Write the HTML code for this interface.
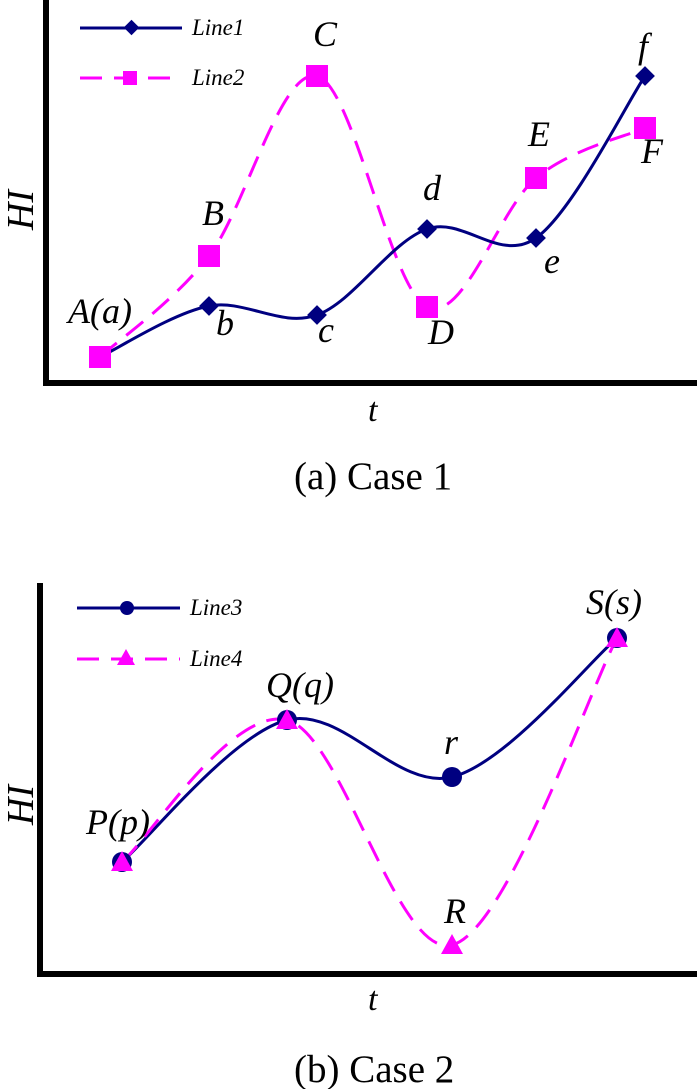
<!DOCTYPE html>
<html><head><meta charset="utf-8"><style>
html,body{margin:0;padding:0;background:#fff}
svg{display:block}
text{font-family:"Liberation Serif",serif;font-style:italic;fill:#000}
.cap{font-style:normal}
</style></head><body>
<svg id="s" width="700" height="1089" viewBox="0 0 700 1089" xmlns="http://www.w3.org/2000/svg">
<rect x="43" y="0" width="6" height="386" fill="#000"/>
<rect x="43" y="380" width="654" height="6" fill="#000"/>
<rect x="37" y="583" width="6" height="394" fill="#000"/>
<rect x="37" y="971" width="660" height="6" fill="#000"/>
<g id="curves"></g>
<line x1="80" y1="28" x2="182" y2="28" stroke="#000080" stroke-width="3"/>
<rect x="126" y="22" width="11" height="11" fill="#000080" transform="rotate(45 131.5 27.5)"/>
<text x="192" y="35" font-size="23">Line1</text>
<line x1="80" y1="78" x2="182" y2="78" stroke="#ff00ff" stroke-width="3" stroke-dasharray="22,12"/>
<rect x="123" y="71" width="14" height="14" fill="#ff00ff"/>
<text x="192" y="85" font-size="23">Line2</text>
<line x1="77" y1="608" x2="180" y2="608" stroke="#000080" stroke-width="3"/>
<circle cx="127" cy="608" r="7" fill="#000080"/>
<text x="190" y="615" font-size="23">Line3</text>
<line x1="77" y1="659" x2="180" y2="659" stroke="#ff00ff" stroke-width="3" stroke-dasharray="22,12"/>
<polygon points="126,649 135,665 117,665" fill="#ff00ff"/>
<text x="190" y="666" font-size="23">Line4</text>
<text x="68" y="323" font-size="36">A(a)</text>
<text x="216" y="335" font-size="36">b</text>
<text x="318" y="342" font-size="36">c</text>
<text x="423" y="200" font-size="36">d</text>
<text x="544" y="273" font-size="36">e</text>
<text x="638" y="58" font-size="36">f</text>
<text x="202" y="225" font-size="36">B</text>
<text x="313" y="46" font-size="36">C</text>
<text x="428" y="344" font-size="36">D</text>
<text x="528" y="146" font-size="36">E</text>
<text x="641" y="163" font-size="36">F</text>
<text x="21" y="222" font-size="38" transform="rotate(-90 21 210)" text-anchor="middle">HI</text>
<text x="368" y="421" font-size="34">t</text>
<text class="cap" x="294" y="489" font-size="39">(a) Case 1</text>
<text x="86" y="834" font-size="36">P(p)</text>
<text x="266" y="697" font-size="36">Q(q)</text>
<text x="444" y="754" font-size="36">r</text>
<text x="586" y="614" font-size="36">S(s)</text>
<text x="444" y="923" font-size="36">R</text>
<text x="21" y="817" font-size="38" transform="rotate(-90 21 805)" text-anchor="middle">HI</text>
<text x="368" y="1010" font-size="34">t</text>
<text class="cap" x="294" y="1082" font-size="39">(b) Case 2</text>
</svg>
<script>
function cr(p){let d="M"+p[0][0]+","+p[0][1];for(let i=0;i<p.length-1;i++){const p0=p[i-1]||p[i],p1=p[i],p2=p[i+1],p3=p[i+2]||p[i+1];const c1=[p1[0]+(p2[0]-p0[0])/6,p1[1]+(p2[1]-p0[1])/6],c2=[p2[0]-(p3[0]-p1[0])/6,p2[1]-(p3[1]-p1[1])/6];d+=" C"+c1+" "+c2+" "+p2;}return d;}
const g=document.getElementById("curves");let h="";
const L1=[[100,357],[209,306],[317,315],[427,229],[536,238],[645,76]];
const L2=[[100,357],[209,256],[317,76],[427,307],[536,178],[645,128]];
const L3=[[122,862],[287,720],[452,777],[617,638]];
const L4=[[122,862],[287,720],[452,945],[617,638]];
h+=`<path d="${cr(L2)}" fill="none" stroke="#ff00ff" stroke-width="3" stroke-dasharray="22,12"/>`;
h+=`<path d="${cr(L1)}" fill="none" stroke="#000080" stroke-width="3"/>`;
L1.forEach(p=>h+=`<rect x="${p[0]-7}" y="${p[1]-7}" width="14" height="14" fill="#000080" transform="rotate(45 ${p[0]} ${p[1]})"/>`);
L2.forEach(p=>h+=`<rect x="${p[0]-11}" y="${p[1]-11}" width="22" height="22" fill="#ff00ff"/>`);
h+=`<path d="${cr(L3)}" fill="none" stroke="#000080" stroke-width="3"/>`;
h+=`<path d="${cr(L4)}" fill="none" stroke="#ff00ff" stroke-width="3" stroke-dasharray="22,12"/>`;
L3.forEach(p=>h+=`<circle cx="${p[0]}" cy="${p[1]}" r="10" fill="#000080"/>`);
L4.forEach(p=>h+=`<polygon points="${p[0]},${p[1]-11} ${p[0]+11},${p[1]+9} ${p[0]-11},${p[1]+9}" fill="#ff00ff"/>`);
g.innerHTML=h;
</script>
</body></html>
